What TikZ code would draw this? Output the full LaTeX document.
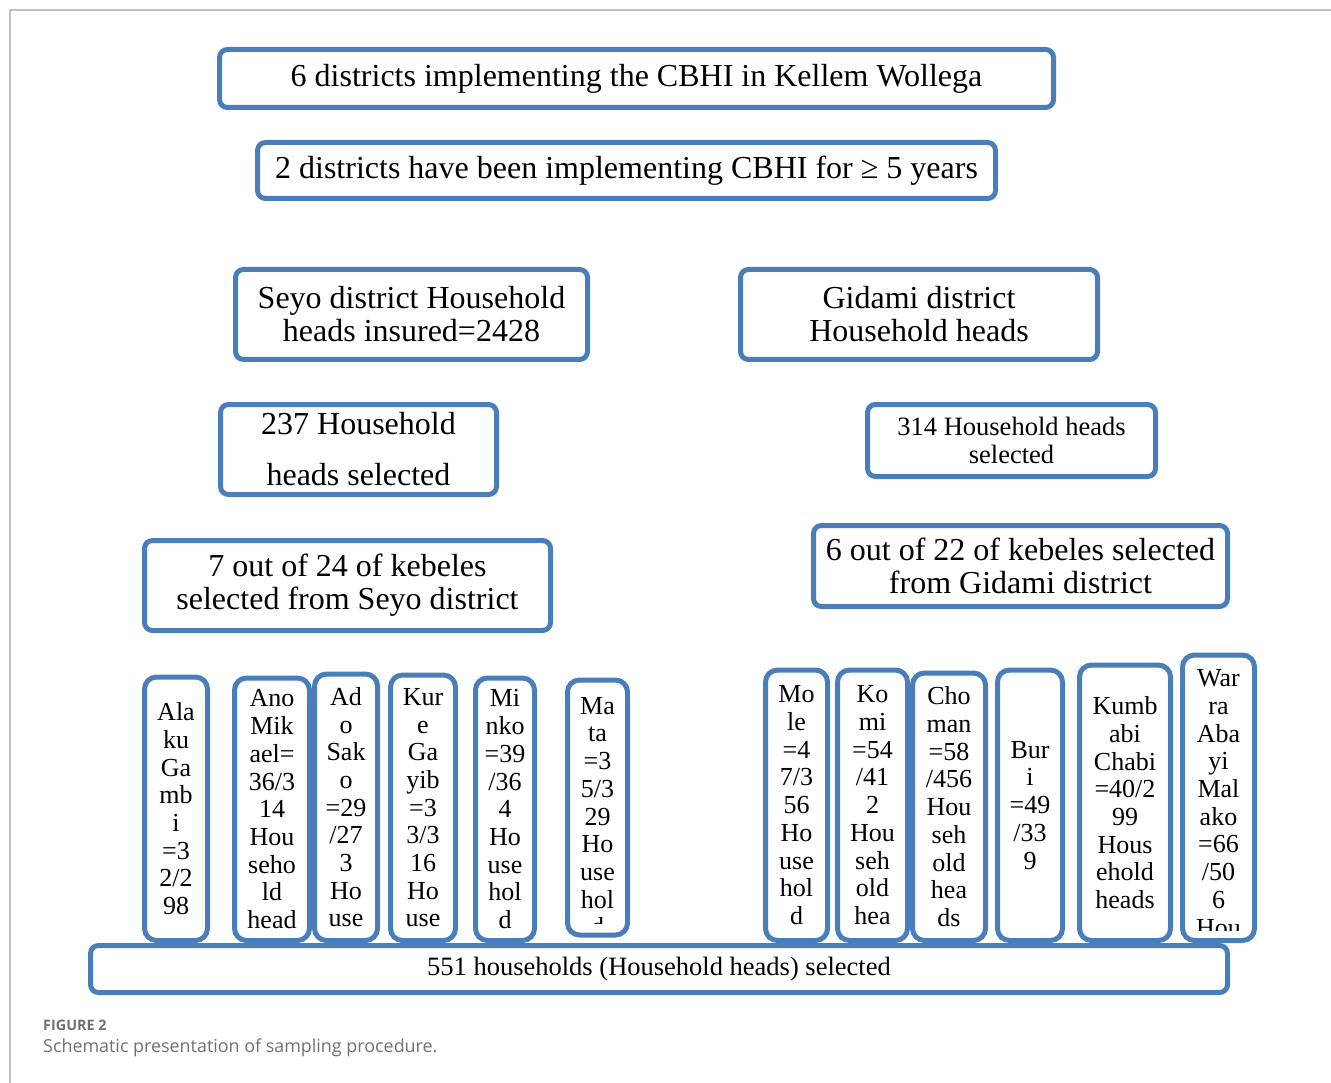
\documentclass[tikz,border=0pt]{standalone}
\usepackage{fontspec}
\setmainfont{Liberation Serif}
\newfontfamily\capfont{Open Sans}
\definecolor{boxblue}{RGB}{74,126,187}
\definecolor{framegray}{RGB}{192,192,192}
\definecolor{capgray}{RGB}{112,112,112}
\tikzset{box/.style={draw=boxblue, line width=5pt, rounded corners=8pt, fill=white,
         align=center, inner sep=0pt, font=\fontsize{32}{33}\selectfont},
         col/.style={box, rounded corners=12pt, anchor=north, font=\fontsize{26}{27.7}\selectfont},
         coltext/.style={anchor=north, align=center, inner sep=0pt, font=\fontsize{26}{27.7}\selectfont}}

\begin{document}
\begin{tikzpicture}[x=1pt, y=-1pt]
\useasboundingbox (0,0) rectangle (1331,1083);
\draw[framegray, line width=1.5pt] (10,1083) -- (10,10) -- (1331,10);
\node[box, minimum width=834, minimum height=58] (top) at (636.5,78.5) {6 districts implementing the CBHI in Kellem Wollega};
\node[box, minimum width=738, minimum height=56] (fiveyears) at (626.5,170.5) {2 districts have been implementing CBHI for ≥ 5 years};
\node[box, minimum width=352, minimum height=90] (seyo) at (411.5,314.5) {Seyo district Household\\heads insured=2428};
\node[box, minimum width=357, minimum height=90] (gidami) at (919,314.5) {Gidami district\\Household heads};
\node[box, minimum width=276, minimum height=90, font=\fontsize{32}{51}\selectfont] (seyosel) at (358.5,449.5) {237 Household\\heads selected};
\node[box, minimum width=288, minimum height=72, font=\fontsize{26.5}{28}\selectfont] (gidamisel) at (1011.5,440.5) {314 Household heads\\selected};
\node[box, minimum width=406, minimum height=90] (seyokeb) at (347.5,585.5) {7 out of 24 of kebeles\\selected from Seyo district};
\node[box, minimum width=414, minimum height=81] (gidamikeb) at (1020.5,566) {6 out of 22 of kebeles selected\\from Gidami district};

\node[col, minimum width=63, minimum height=263.5] (alaku) at (176,674.5) {Ala\\ku\\Ga\\mb\\i\\=3\\2/2\\98};
\node[col, minimum width=75, minimum height=262.5] (anomikael) at (272,675.5) {Ano\\Mik\\ael=\\36/3\\14\\Hou\\seho\\ld\\head};
\node[col, minimum width=63, minimum height=266.5] (adosako) at (346,671.5) {Ad\\o\\Sak\\o\\=29\\/27\\3\\Ho\\use};
\node[col, minimum width=65, minimum height=265.5] (kure) at (423,672.5) {Kur\\e\\Ga\\yib\\=3\\3/3\\16\\Ho\\use};
\node[col, minimum width=59, minimum height=262.5] (minko) at (505,675.5) {Mi\\nko\\=39\\/36\\4\\Ho\\use\\hol\\d};
\node[col, minimum width=60, minimum height=255] (mata) at (597.5,677.5) {};
\begin{scope}
\clip (565,685) rectangle (630,923);
\node[coltext] (matatext) at (597.5,697) {Ma\\ta\\=3\\5/3\\29\\Ho\\use\\hol\\d};
\end{scope}
\node[col, minimum width=62, minimum height=270.5] (mole) at (796.5,667.5) {Mo\\le\\=4\\7/3\\56\\Ho\\use\\hol\\d};
\node[col, minimum width=70, minimum height=270.5] (komi) at (872.5,667.5) {Ko\\mi\\=54\\/41\\2\\Hou\\seh\\old\\hea};
\node[col, minimum width=73, minimum height=267.5] (choman) at (949,670.5) {Cho\\man\\=58\\/456\\Hou\\seh\\old\\hea\\ds};
\node[col, minimum width=65, minimum height=270.5] (buri) at (1030,667.5) {Bur\\i\\=49\\/33\\9};
\node[col, minimum width=91, minimum height=275.5] (kumbabi) at (1125,662.5) {Kumb\\abi\\Chabi\\=40/2\\99\\Hous\\ehold\\heads};
\node[col, minimum width=72, minimum height=285.5] (warra) at (1218.5,652.5) {};
\begin{scope}
\clip (1185,660) rectangle (1252,930);
\node[coltext] (warratext) at (1218.5,669.5) {War\\ra\\Aba\\yi\\Mal\\ako\\=66\\/50\\6\\Hou};
\end{scope}

\node[box, minimum width=1137, minimum height=47, font=\fontsize{26.5}{28}\selectfont] (total) at (659,969) {551 households (Household heads) selected};

\node[anchor=west, inner sep=0pt, text=capgray, font=\capfont\bfseries\fontsize{14.4}{17}\selectfont] (figlabel) at (43,1025) {FIGURE 2};
\node[anchor=west, inner sep=0pt, text=capgray, font=\capfont\fontsize{17.9}{21}\selectfont] (figcaption) at (43,1048) {Schematic presentation of sampling procedure.};
\end{tikzpicture}
\end{document}
